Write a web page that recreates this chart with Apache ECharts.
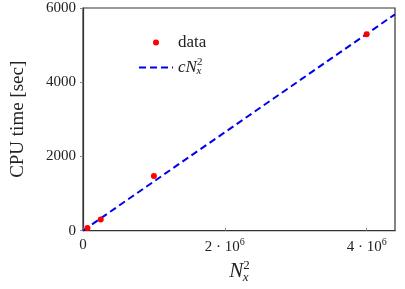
<!DOCTYPE html>
<html><head><meta charset="utf-8">
<script src="https://cdn.jsdelivr.net/npm/echarts@6/dist/echarts.min.js"></script>
<style>html,body{margin:0;padding:0;background:#fff}#c{width:405px;height:289px}</style>
</head><body><div id="c"></div>
<script>
// N_x^2 values and CPU time (sec)
const dataX = [62500, 250000, 1000000, 4000000];
const dataY = [70, 300, 1470, 5290];
// fitted line c*N_x^2 endpoints
const fitX = [0, 4400000];
const fitY = [0, 5830];
const yTicks = [0, 2000, 4000, 6000];
const xTickLabels = {0: '0', 2000000: '2', 4000000: '4'};

const FONT = 'Liberation Serif';
const chart = echarts.init(document.getElementById('c'));
chart.setOption({
  animation: false,
  grid: {left: 83, right: 10, top: 8, bottom: 54, show: true, borderColor: '#333', borderWidth: 1.2},
  legend: {
    orient: 'vertical', left: 133, top: 29, itemWidth: 34, itemHeight: 6, itemGap: 6,
    data: [{name: 'data', icon: 'circle'}, {name: 'fit', itemStyle: {opacity: 0}}],
    textStyle: {fontFamily: FONT, fontSize: 17, color: '#222',
      rich: {i: {fontFamily: FONT, fontStyle: 'italic', fontSize: 17, color: '#222'},
             sup: {fontFamily: FONT, fontSize: 11, verticalAlign: 'bottom', padding: [0,0,10,0], color: '#222'},
             sub: {fontFamily: FONT, fontStyle: 'italic', fontSize: 11, padding: [8,0,0,-6], color: '#222'}}},
    formatter: n => n === 'data' ? 'data' : '{i|cN}{sup|2}{sub|x}'
  },
  xAxis: {
    type: 'value', min: 0, max: 4400000, interval: 2000000,
    name: '{i|N}{sup|2}{sub|x}', nameLocation: 'middle', nameGap: 28,
    nameTextStyle: {rich: {
      i: {fontFamily: FONT, fontStyle: 'italic', fontSize: 21, color: '#222'},
      sup: {fontFamily: FONT, fontSize: 13, padding: [0,0,12,0], color: '#222'},
      sub: {fontFamily: FONT, fontStyle: 'italic', fontSize: 13, padding: [12,0,0,-7], color: '#222'}}},
    axisLine: {lineStyle: {color: '#333', width: 1.2}},
    axisTick: {inside: true, length: 3, lineStyle: {color: '#888'}},
    splitLine: {show: false},
    axisLabel: {margin: 7, showMaxLabel: false,
      formatter: v => v === 0 ? '{n|0}' : '{n|' + xTickLabels[v] + ' · 10}{s|6}',
      rich: {n: {fontFamily: FONT, fontSize: 15, color: '#222'},
             s: {fontFamily: FONT, fontSize: 10, padding: [0,0,8,0], color: '#222'}}}
  },
  yAxis: {
    type: 'value', min: 0, max: 6000, interval: 2000,
    name: 'CPU time [sec]', nameLocation: 'middle', nameGap: 55,
    nameTextStyle: {fontFamily: FONT, fontSize: 19, color: '#222'},
    axisLine: {lineStyle: {color: '#333', width: 1.2}},
    axisTick: {inside: false, length: 3, lineStyle: {color: '#888'}},
    splitLine: {show: false},
    axisLabel: {fontFamily: FONT, fontSize: 15, color: '#222', margin: 7, formatter: v => String(v)}
  },
  series: [
    {name: 'data', type: 'scatter', symbol: 'circle', symbolSize: 6,
     itemStyle: {color: '#ff0000', opacity: 1}, data: dataX.map((x, i) => [x, dataY[i]]), z: 3},
    {name: 'fit', type: 'line', symbol: 'none', showSymbol: false,
     lineStyle: {color: '#0000ee', width: 2, type: [7, 4]}, itemStyle: {color: '#0000ee'},
     data: fitX.map((x, i) => [x, fitY[i]]), z: 2}
  ]
});
</script></body></html>
